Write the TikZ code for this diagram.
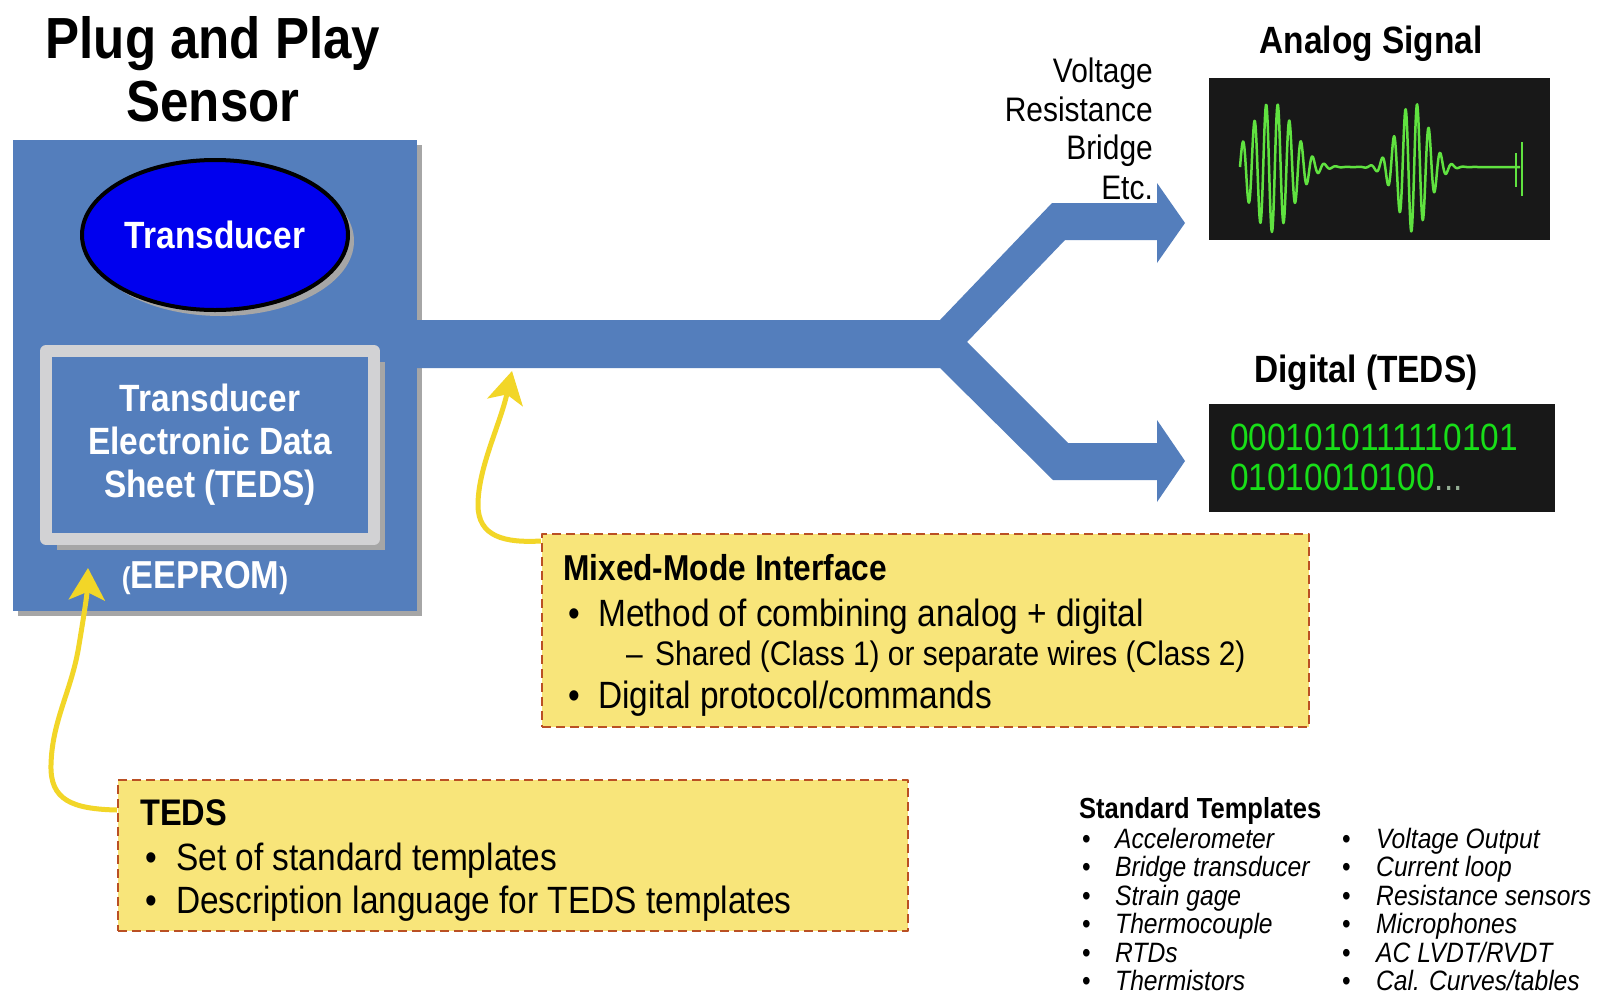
\documentclass[tikz,border=0pt]{standalone}
\usepackage{fontspec}
\setmainfont{Liberation Sans}
\newfontfamily\narrowsf[FakeStretch=0.88]{Liberation Sans}
\usetikzlibrary{shapes.geometric,arrows.meta,shadows}
\definecolor{sensorblue}{RGB}{84,126,188}
\definecolor{xdcrblue}{RGB}{0,0,238}
\definecolor{framegray}{RGB}{210,210,212}
\definecolor{noteyellow}{RGB}{248,229,122}
\definecolor{notered}{RGB}{186,80,36}
\definecolor{calloutyellow}{RGB}{242,214,40}
\definecolor{scopeblack}{RGB}{24,24,24}
\definecolor{tracegreen}{RGB}{96,226,64}
\definecolor{bitgreen}{RGB}{24,222,24}
\definecolor{dotgray}{RGB}{150,175,150}
\newcommand\setfs[1]{\fontsize{#1}{#1}\selectfont}
\newcommand\tplrow[2]{\makebox[33pt][l]{\textbullet}\makebox[227pt][l]{\itshape #1}\makebox[34pt][l]{\textbullet}{\itshape #2}}

\begin{document}
\begin{tikzpicture}[x=1pt, y=-1pt, line join=round,
  lbl/.style={inner sep=0pt},
  boxshadow/.style={drop shadow={shadow xshift=#1, shadow yshift=-#1, fill=black!35, opacity=1}},
  note/.style={draw=notered, fill=noteyellow, line width=2pt, dash pattern=on 9pt off 5pt, inner sep=0pt},
  callout/.style={draw=calloutyellow, line width=5pt, -{Stealth[length=32pt, width=36pt, inset=8pt]}},
  screen/.style={fill=scopeblack, inner sep=0pt},
  wave/.style={draw=tracegreen, line width=2.5pt}]
  \useasboundingbox (0,0) rectangle (1604,999);
  \fill[white] (0,0) rectangle (1604,999);
  % Titel
  \node[lbl, anchor=base, font=\narrowsf\bfseries\setfs{58}] (title1) at (213,58) {Plug and Play};
  \node[lbl, anchor=base, font=\narrowsf\bfseries\setfs{58}] (title2) at (213,121) {Sensor};
  % Sensor mit Wandler und TEDS-Speicher
  \node[fill=sensorblue, boxshadow=5pt, minimum width=404pt, minimum height=471pt, inner sep=0pt] (sensor) at (215,375.5) {};
  \node[ellipse, draw=black, line width=4pt, fill=xdcrblue, boxshadow=6pt, minimum width=266pt, minimum height=150pt,
    inner sep=0pt, text=white, font=\narrowsf\bfseries\setfs{38}] (xdcr) at (215,235) {Transducer};
  \node[draw=framegray, line width=12pt, fill=sensorblue, boxshadow=11pt, minimum width=328pt, minimum height=188pt,
    inner sep=0pt, text=white, align=center, font=\narrowsf\bfseries\fontsize{38}{43}\selectfont] (tedsframe) at (210,445)
    {Transducer\\Electronic Data\\Sheet (TEDS)};
  \node[lbl, anchor=base, text=white, font=\narrowsf\bfseries\setfs{39}] (eeprom) at (205,588) {{\setfs{30}(}EEPROM{\setfs{30})}};
  % Bus und Abzweig
  \fill[sensorblue] (417,320) -- (940,320) -- (1052,203) -- (1157,203) -- (1157,183) -- (1185,223) -- (1157,263)
    -- (1157,240) -- (1065,240) -- (967,342) -- (1068,443) -- (1157,443) -- (1157,420) -- (1185,461)
    -- (1157,502) -- (1157,480) -- (1053,480) -- (940,368) -- (417,368) -- cycle;
  \node[lbl, anchor=base east, font=\narrowsf\setfs{34}] (sigv) at (1153,82) {Voltage};
  \node[lbl, anchor=base east, font=\narrowsf\setfs{34}] (sigr) at (1153,121) {Resistance};
  \node[lbl, anchor=base east, font=\narrowsf\setfs{34}] (sigb) at (1153,159) {Bridge};
  \node[lbl, anchor=base east, font=\narrowsf\setfs{34}] (sige) at (1153,199) {Etc.};
  % Analogsignal
  \node[lbl, anchor=base, font=\narrowsf\bfseries\setfs{38}] (analoglbl) at (1371,53) {Analog Signal};
  \node[screen, minimum width=341pt, minimum height=162pt] (analog) at (1379.5,159) {};
  \draw[wave] plot[domain=1240:1514, samples=550, variable=\t]
    (\t, {167 - (65*exp(-((\t-1272)/30)^2) + 65*exp(-((\t-1413)/22)^2))*sin(31*(\t-1240))}) -- (1520,167);
  \draw[wave] (1516,153) -- (1516,187) (1522,142) -- (1522,196);
  % Digitalsignal
  \node[lbl, anchor=base, font=\narrowsf\bfseries\setfs{38}] (digitallbl) at (1366,382) {Digital (TEDS)};
  \node[screen, minimum width=346pt, minimum height=108pt] (digital) at (1382,458) {};
  \node[lbl, anchor=base west, text=bitgreen, font=\narrowsf\setfs{38}] (bits1) at (1230,450) {0001010111110101};
  \node[lbl, anchor=base west, text=bitgreen, font=\narrowsf\setfs{38}] (bits2) at (1230,490) {01010010100{\color{dotgray}...}};
  % Notizen
  \node[note, minimum width=767pt, minimum height=193pt] (mixnote) at (925.5,630.5) {};
  \node[lbl, anchor=base west, font=\narrowsf\bfseries\setfs{36}] (mixhead) at (563,580) {Mixed-Mode Interface};
  \node[lbl, anchor=base west, font=\narrowsf\setfs{38}] (mixdot1) at (568,626) {\textbullet};
  \node[lbl, anchor=base west, font=\narrowsf\setfs{38}] (mixitem1) at (598,626) {Method of combining analog + digital};
  \node[lbl, anchor=base west, font=\narrowsf\setfs{34}] (mixdash) at (626,665) {–};
  \node[lbl, anchor=base west, font=\narrowsf\setfs{34}] (mixsub) at (655,665) {Shared (Class 1) or separate wires (Class 2)};
  \node[lbl, anchor=base west, font=\narrowsf\setfs{38}] (mixdot2) at (568,708) {\textbullet};
  \node[lbl, anchor=base west, font=\narrowsf\setfs{38}] (mixitem2) at (598,708) {Digital protocol/commands};
  \node[note, minimum width=790pt, minimum height=151pt] (tedsnote) at (513,855.5) {};
  \node[lbl, anchor=base west, font=\narrowsf\bfseries\setfs{37}] (tedshead) at (140,825) {TEDS};
  \node[lbl, anchor=base west, font=\narrowsf\setfs{38}] (tedsdot1) at (145,870) {\textbullet};
  \node[lbl, anchor=base west, font=\narrowsf\setfs{38}] (tedsitem1) at (176,870) {Set of standard templates};
  \node[lbl, anchor=base west, font=\narrowsf\setfs{38}] (tedsdot2) at (145,913) {\textbullet};
  \node[lbl, anchor=base west, font=\narrowsf\setfs{38}] (tedsitem2) at (176,913) {Description language for TEDS templates};
  % Hinweispfeile
  \coordinate (eepromtip) at (88,568);
  \coordinate (bustap) at (512,371);
  \draw[callout] ([yshift=-31pt]tedsnote.north west) .. controls (72,809) and (50,800) .. (51,765)
    .. controls (52,720) and (72,690) .. (79,645) .. controls (84,615) and (87,595) .. (eepromtip);
  \draw[callout] ([yshift=-8pt]mixnote.north west) .. controls (505,543) and (478,537) .. (478,505)
    .. controls (478,468) and (500,425) .. (bustap);
  % Standardvorlagen
  \node[lbl, anchor=base west, font=\narrowsf\bfseries\setfs{29}] (tplhead) at (1079,818) {Standard Templates};
  \node[lbl, anchor=north west, align=left, font=\narrowsf\fontsize{28}{28.4}\selectfont] (tpllist) at (1082,828)
    {\tplrow{Accelerometer}{Voltage Output}\\
     \tplrow{Bridge transducer}{Current loop}\\
     \tplrow{Strain gage}{Resistance sensors}\\
     \tplrow{Thermocouple}{Microphones}\\
     \tplrow{RTDs}{AC LVDT/RVDT}\\
     \tplrow{Thermistors}{Cal. Curves/tables}};
\end{tikzpicture}
\end{document}
